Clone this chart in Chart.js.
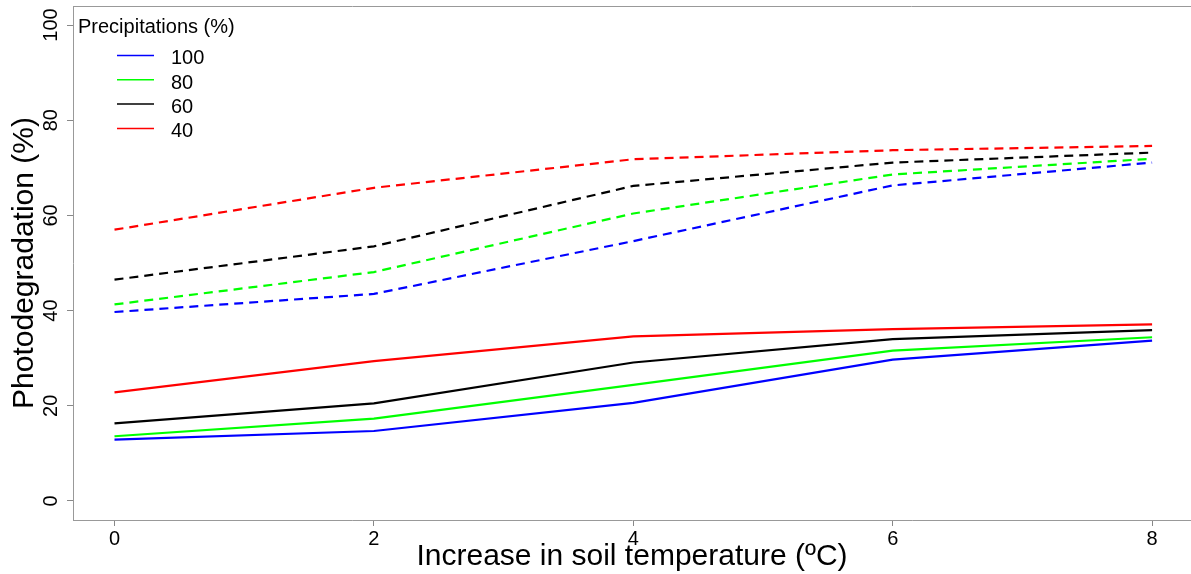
<!DOCTYPE html>
<html lang="en">
<head>
  <meta charset="UTF-8">
  <title>Photodegradation vs soil temperature</title>
  <script src="https://cdn.jsdelivr.net/npm/chart.js"></script>
  <style>
    body { margin: 0; background: #fff; overflow: hidden; }
    canvas { display: block; }
  </style>
</head>
<body>
  <canvas id="chart" width="1191" height="574"></canvas>

  <script>
    const temperatures = [0, 2, 4, 6, 8];
    const precipitations = ['100', '80', '60', '40'];
    const xTicks = [0, 2, 4, 6, 8];
    const yTicks = [0, 20, 40, 60, 80, 100];

    // solid curves (lower group)
    const solid100 = [12.9, 14.7, 20.6, 29.7, 33.7];
    const solid80 = [13.6, 17.3, 24.4, 31.6, 34.4];
    const solid60 = [16.3, 20.5, 29.1, 34.0, 35.9];
    const solid40 = [22.8, 29.4, 34.6, 36.1, 37.1];

    // dashed curves (upper group)
    const dashed100 = [39.7, 43.5, 54.6, 66.3, 71.1];
    const dashed80 = [41.3, 48.1, 60.4, 68.6, 71.9];
    const dashed60 = [46.5, 53.5, 66.2, 71.1, 73.2];
    const dashed40 = [57.0, 65.8, 71.8, 73.7, 74.6];

    const colors = ['#0000ff', '#00ff00', '#000000', '#ff0000'];
    const solidSeries = [solid100, solid80, solid60, solid40];
    const dashedSeries = [dashed100, dashed80, dashed60, dashed40];
    const FONT = 'Liberation Sans, Arial, sans-serif';

    function toPoints(values) {
      return temperatures.map((t, i) => ({ x: t, y: values[i] }));
    }

    const datasets = [];
    dashedSeries.forEach((s, i) => {
      datasets.push({
        label: precipitations[i], data: toPoints(s), borderColor: colors[i],
        borderWidth: 2.2, borderDash: [9, 6], pointRadius: 0, fill: false, dashed: true
      });
    });
    solidSeries.forEach((s, i) => {
      datasets.push({
        label: precipitations[i], data: toPoints(s), borderColor: colors[i],
        borderWidth: 2.2, pointRadius: 0, fill: false, dashed: false
      });
    });

    // box top edge + legend in the top-left corner
    const extras = {
      id: 'extras',
      afterDraw(chart) {
        const ctx = chart.ctx;
        const a = chart.chartArea;
        ctx.save();
        ctx.strokeStyle = '#999';
        ctx.lineWidth = 1;
        ctx.beginPath();
        ctx.moveTo(a.left, a.top + 0.5);
        ctx.lineTo(a.right, a.top + 0.5);
        ctx.stroke();

        ctx.fillStyle = '#000';
        ctx.font = '20px ' + FONT;
        ctx.textBaseline = 'alphabetic';
        ctx.textAlign = 'left';
        ctx.fillText('Precipitations (%)', 78, 33);

        const items = chart.data.datasets.filter(d => !d.dashed);
        items.forEach((d, i) => {
          const y = 55.5 + i * 24.3;
          ctx.strokeStyle = d.borderColor;
          ctx.lineWidth = 1.5;
          ctx.beginPath();
          ctx.moveTo(117, y);
          ctx.lineTo(154, y);
          ctx.stroke();
          ctx.fillText(d.label, 171, y + 8.7);
        });
        ctx.restore();
      }
    };

    new Chart(document.getElementById('chart'), {
      type: 'line',
      data: { datasets },
      plugins: [extras],
      options: {
        responsive: false,
        animation: false,
        layout: { padding: { top: 6, right: 0, left: 0, bottom: 0 } },
        plugins: { legend: { display: false }, tooltip: { enabled: false } },
        scales: {
          x: {
            type: 'linear', min: -0.32, max: 8.3,
            afterBuildTicks: s => { s.ticks = xTicks.map(v => ({ value: v })); },
            afterFit: s => { s.height = 54; s.paddingLeft = 0; s.paddingRight = 0; },
            grid: { drawOnChartArea: false, drawTicks: true, tickLength: 6, color: '#888' },
            border: { display: true, color: '#999' },
            ticks: { color: '#000', font: { family: FONT, size: 20 }, padding: 1, maxRotation: 0, autoSkip: false },
            title: {
              display: true, text: 'Increase in soil temperature (ºC)', color: '#000',
              font: { family: FONT, size: 30, lineHeight: 1 }, padding: { top: 0, bottom: 2 }
            }
          },
          y: {
            type: 'linear', min: -4, max: 104,
            afterBuildTicks: s => { s.ticks = yTicks.map(v => ({ value: v })); },
            afterFit: s => { s.width = 73; s.paddingTop = 0; s.paddingBottom = 0; },
            grid: { drawOnChartArea: false, drawTicks: true, tickLength: 6, color: '#888' },
            border: { display: true, color: '#999' },
            ticks: {
              color: '#000', font: { family: FONT, size: 20 }, padding: -1,
              minRotation: 90, maxRotation: 90, crossAlign: 'center', autoSkip: false
            },
            title: {
              display: true, text: 'Photodegradation (%)', color: '#000',
              font: { family: FONT, size: 30, lineHeight: 1 }, padding: { top: 10, bottom: 0 }
            }
          }
        }
      }
    });
  </script>
</body>
</html>
